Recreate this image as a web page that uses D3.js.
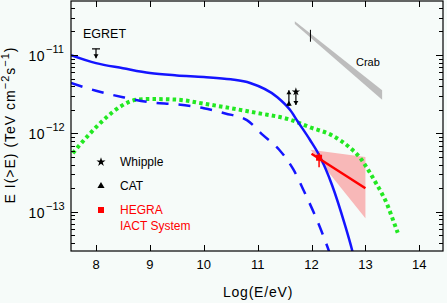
<!DOCTYPE html>
<html>
<head>
<meta charset="utf-8">
<script src="https://cdn.jsdelivr.net/npm/d3@7"></script>
<style>
	body { margin: 0; background: #f6fbf9; }
	svg { display: block; }
	text { font-family: "Liberation Sans", Arial, sans-serif; fill: #000; }
</style>
</head>
<body>
<div id="chart"></div>
<script>
// log(E/eV) and integral flux E I(>E) in TeV cm^-2 s^-1
var solidLogE = [7.536, 8, 8.5, 9, 9.5, 10, 10.5, 10.86, 11.36, 11.6, 11.75, 11.97, 12.16, 12.38, 12.62, 12.75, 12.82];
var solidFlux = [1.0e-11, 7.9e-12, 6.8e-12, 5.9e-12, 5.5e-12, 5.25e-12, 4.9e-12, 4.4e-12, 2.92e-12, 2.0e-12, 1.4e-12, 8.3e-13, 5.0e-13, 2.2e-13, 6.8e-14, 3.3e-14, 2.1e-14];

var dashLogE = [7.536, 8, 8.5, 9, 9.5, 10, 10.4, 10.8, 11.1, 11.4, 11.66, 11.9, 12.1, 12.3, 12.35];
var dashFlux = [4.4e-12, 3.5e-12, 2.9e-12, 2.5e-12, 2.35e-12, 2.1e-12, 1.8e-12, 1.48e-12, 9.5e-13, 6.2e-13, 3.5e-13, 1.6e-13, 7.9e-14, 3.5e-14, 2.8e-14];

var dotLogE = [7.57, 7.68, 7.89, 8.2, 8.45, 8.76, 9, 9.5, 10, 10.5, 11, 11.6, 11.97, 12.4, 12.71, 12.9, 13, 13.2, 13.3, 13.4, 13.5, 13.6];
var dotFlux = [5.6e-13, 6.9e-13, 1.0e-12, 1.62e-12, 2.2e-12, 2.7e-12, 2.75e-12, 2.7e-12, 2.4e-12, 2.1e-12, 1.82e-12, 1.5e-12, 1.2e-12, 9.3e-13, 6.6e-13, 4.9e-13, 3.9e-13, 2.3e-13, 1.74e-13, 1.26e-13, 8.3e-14, 5.4e-14];

// HEGRA fit and its error region
var hegraFitLogE = [12.0, 13.0];
var hegraFitFlux = [5.5e-13, 2.0e-13];
var hegraBandLogE = [11.98, 13.0, 13.0];
var hegraBandFlux = [6.2e-13, 5.0e-13, 8.3e-14];
var hegraPoint = { logE: 12.14, flux: 4.9e-13, lo: 3.7e-13, hi: 5.6e-13 };

// Crab band (upper and lower edge)
var crabLogE = [11.69, 13.31];
var crabHigh = [2.7e-11, 3.55e-12];
var crabLow = [2.5e-11, 2.7e-12];
var crabTick = { logE: 11.98, lo: 1.48e-11, hi: 2.1e-11 };

// limits
var catLimit = { logE: 11.58, from: 2.24e-12, to: 3.55e-12 };
var whippleLimit = { logE: 11.71, from: 3.4e-12, to: 2.3e-12 };
var egretLimit = { logE: 8.0, from: 1.2e-11, to: 9.1e-12 };

var xTicks = [8, 9, 10, 11, 12, 13, 14];
var yDecades = [-11, -12, -13];

var width = 447, height = 303;
var plotLeft = 71, plotRight = 443, plotTop = 1, plotBottom = 251;

var svg = d3.select("#chart").append("svg")
	.attr("width", width)
	.attr("height", height);

var x = d3.scaleLinear().domain([7.536, 14.44]).range([plotLeft, plotRight]);
var y = d3.scaleLog().domain([Math.pow(10, -13.5), Math.pow(10, -10.31)]).range([plotBottom, plotTop]);

svg.append("clipPath").attr("id", "clip")
	.append("rect")
	.attr("x", plotLeft).attr("y", plotTop)
	.attr("width", plotRight - plotLeft).attr("height", plotBottom - plotTop);

var plot = svg.append("g").attr("clip-path", "url(#clip)");

var line = d3.line()
	.x(function (d) { return x(d[0]); })
	.y(function (d) { return y(d[1]); })
	.curve(d3.curveMonotoneX);

function pairs(a, b) {
	return a.map(function (v, i) { return [v, b[i]]; });
}

// crab band
var crabPoly = pairs(crabLogE, crabHigh).concat(pairs(crabLogE, crabLow).reverse());
plot.append("polygon")
	.attr("points", crabPoly.map(function (d) { return [x(d[0]), y(d[1])]; }).join(" "))
	.attr("fill", "#bdbdbd");
plot.append("line")
	.attr("x1", x(crabTick.logE)).attr("x2", x(crabTick.logE))
	.attr("y1", y(crabTick.hi)).attr("y2", y(crabTick.lo))
	.attr("stroke", "#000").attr("stroke-width", 1);

// HEGRA error band
plot.append("polygon")
	.attr("points", pairs(hegraBandLogE, hegraBandFlux).map(function (d) { return [x(d[0]), y(d[1])]; }).join(" "))
	.attr("fill", "#f8b8b8");

// model curves
plot.append("path")
	.attr("d", line(pairs(dotLogE, dotFlux)))
	.attr("fill", "none")
	.attr("stroke", "#22e822")
	.attr("stroke-width", 4)
	.attr("stroke-dasharray", "3.5,3.2");

plot.append("path")
	.attr("d", line(pairs(dashLogE, dashFlux)))
	.attr("fill", "none")
	.attr("stroke", "#1414ff")
	.attr("stroke-width", 2.5)
	.attr("stroke-dasharray", "12,10");

plot.append("path")
	.attr("d", line(pairs(solidLogE, solidFlux)))
	.attr("fill", "none")
	.attr("stroke", "#1414ff")
	.attr("stroke-width", 2.5);

// HEGRA fit line and point
plot.append("path")
	.attr("d", d3.line()(pairs(hegraFitLogE, hegraFitFlux).map(function (d) { return [x(d[0]), y(d[1])]; })))
	.attr("stroke", "#ff0000")
	.attr("stroke-width", 2.5);
plot.append("line")
	.attr("x1", x(hegraPoint.logE)).attr("x2", x(hegraPoint.logE))
	.attr("y1", y(hegraPoint.hi)).attr("y2", y(hegraPoint.lo))
	.attr("stroke", "#ff0000").attr("stroke-width", 1.5);
plot.append("rect")
	.attr("x", x(hegraPoint.logE) - 3).attr("y", y(hegraPoint.flux) - 3)
	.attr("width", 6).attr("height", 6)
	.attr("fill", "#ff0000");

var star = d3.symbol().type(d3.symbolStar);
var tri = d3.symbol().type(d3.symbolTriangle);

// limit arrows
function arrow(lim, up) {
	var x0 = x(lim.logE), y0 = y(lim.from), y1 = y(lim.to);
	plot.append("line")
		.attr("x1", x0).attr("x2", x0).attr("y1", y0).attr("y2", y1)
		.attr("stroke", "#000").attr("stroke-width", 1.2);
	var d = up ? -1 : 1;
	plot.append("path")
		.attr("d", "M" + (x0 - 2.5) + "," + (y1 - d * 4) + "L" + x0 + "," + y1 + "L" + (x0 + 2.5) + "," + (y1 - d * 4) + "Z")
		.attr("fill", "#000");
}
arrow(catLimit, true);
plot.append("path")
	.attr("d", tri.size(14)())
	.attr("transform", "translate(" + x(catLimit.logE) + "," + (y(catLimit.from) - 2) + ")");
arrow(whippleLimit, false);
plot.append("path")
	.attr("d", star.size(22)())
	.attr("transform", "translate(" + x(whippleLimit.logE) + "," + y(whippleLimit.from) + ")");

// EGRET upper limit
plot.append("line")
	.attr("x1", x(egretLimit.logE) - 4).attr("x2", x(egretLimit.logE) + 4)
	.attr("y1", y(egretLimit.from)).attr("y2", y(egretLimit.from))
	.attr("stroke", "#000").attr("stroke-width", 1.2);
arrow(egretLimit, false);

// axes frame
svg.append("rect")
	.attr("x", plotLeft).attr("y", plotTop)
	.attr("width", plotRight - plotLeft).attr("height", plotBottom - plotTop)
	.attr("fill", "none").attr("stroke", "#000").attr("stroke-width", 1.2);

var ticks = svg.append("g").attr("stroke", "#000").attr("stroke-width", 1);

xTicks.forEach(function (t) {
	var px = Math.round(x(t)) + 0.5;
	ticks.append("line").attr("x1", px).attr("x2", px).attr("y1", plotBottom).attr("y2", plotBottom - 6);
	ticks.append("line").attr("x1", px).attr("x2", px).attr("y1", plotTop).attr("y2", plotTop + 6);
	svg.append("text")
		.attr("x", x(t)).attr("y", 269)
		.attr("text-anchor", "middle")
		.attr("font-size", 13)
		.text(t);
});

var minor = [];
for (var e = -14; e <= -10; e++) {
	for (var m = 1; m < 10; m++) {
		var v = m * Math.pow(10, e);
		if (v >= y.domain()[0] && v <= y.domain()[1]) minor.push({ v: v, major: m == 1 });
	}
}
minor.forEach(function (t) {
	var py = Math.round(y(t.v)) + 0.5;
	var len = t.major ? 7 : 4;
	ticks.append("line").attr("x1", plotLeft).attr("x2", plotLeft + len).attr("y1", py).attr("y2", py);
	ticks.append("line").attr("x1", plotRight).attr("x2", plotRight - len).attr("y1", py).attr("y2", py);
});

yDecades.forEach(function (e) {
	svg.append("text")
		.attr("x", 45).attr("y", y(Math.pow(10, e)) + 6)
		.attr("text-anchor", "end")
		.attr("font-size", 14)
		.attr("letter-spacing", 0.5)
		.text("10");
	svg.append("text")
		.attr("x", 46).attr("y", y(Math.pow(10, e)) - 2)
		.attr("font-size", 11)
		.text("\u2212" + (-e));
});

// axis titles
svg.append("text")
	.attr("x", 258).attr("y", 297)
	.attr("text-anchor", "middle")
	.attr("font-size", 14)
	.attr("letter-spacing", 0.8)
	.text("Log(E/eV)");

var yt = svg.append("text")
	.attr("transform", "translate(15,125) rotate(-90)")
	.attr("text-anchor", "middle")
	.attr("font-size", 14)
	.attr("letter-spacing", 1);
yt.append("tspan").text("E I(>E) (TeV cm");
yt.append("tspan").attr("dy", -6).attr("font-size", 11).text("\u22122");
yt.append("tspan").attr("dy", 6).text("s");
yt.append("tspan").attr("dy", -6).attr("font-size", 11).text("\u22121");
yt.append("tspan").attr("dy", 6).text(")");

// labels
svg.append("text").attr("x", 83).attr("y", 38).attr("font-size", 12.5).text("EGRET");
svg.append("text").attr("x", 356).attr("y", 66).attr("font-size", 11).text("Crab");

// legend
var legendNames = ["Whipple", "CAT", "HEGRA"];
var legendY = [162, 186, 210];
svg.append("path").attr("d", star.size(26)()).attr("transform", "translate(101," + legendY[0] + ")");
svg.append("path").attr("d", tri.size(22)()).attr("transform", "translate(101," + legendY[1] + ")");
svg.append("rect").attr("x", 98).attr("y", legendY[2] - 3).attr("width", 6).attr("height", 6).attr("fill", "#ff0000");
legendNames.forEach(function (n, i) {
	svg.append("text")
		.attr("x", 120).attr("y", legendY[i] + 4)
		.attr("font-size", 12)
		.style("fill", i == 2 ? "#ff0000" : "#000")
		.text(n);
});
svg.append("text")
	.attr("x", 120).attr("y", 230)
	.attr("font-size", 12)
	.style("fill", "#ff0000")
	.text("IACT System");
</script>
</body>
</html>
